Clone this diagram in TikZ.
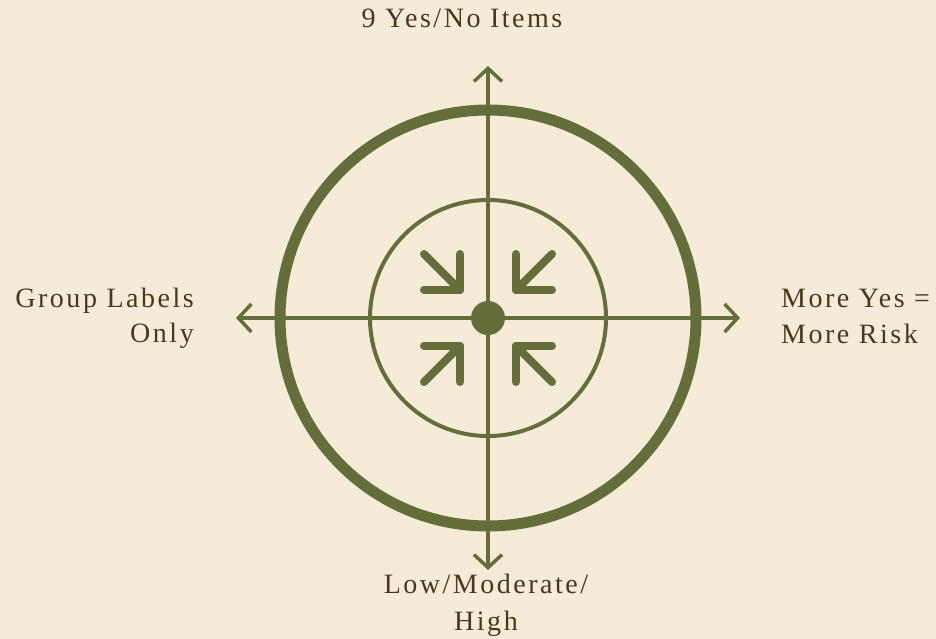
\documentclass[tikz,border=0pt]{standalone}
\usepackage{fontspec}
\setmainfont{Liberation Serif}[LetterSpace=9]
\usetikzlibrary{arrows.meta}
\definecolor{bg}{HTML}{F5EBD7}
\definecolor{olive}{HTML}{646E3B}
\definecolor{ink}{HTML}{47391F}
\begin{document}
\begin{tikzpicture}[x=1pt,y=-1pt,
  axis/.style={draw=olive,line width=3.5pt,{Straight Barb[length=13pt,width=28pt]}-{Straight Barb[length=13pt,width=28pt]}},
  chev/.style={draw=olive,line width=8pt,line cap=round,line join=round},
  ring/.style={circle,draw=olive,inner sep=0pt},
  lbl/.style={text=ink,font=\fontsize{28}{35}\selectfont,inner sep=0pt}]
\fill[bg] (0,0) rectangle (936,639);
\useasboundingbox (0,0) rectangle (936,639);
\coordinate (C) at (488,318);
\node[ring,line width=11pt,minimum size=416pt] (outer) at (C) {};
\node[ring,line width=4pt,minimum size=236pt] (inner) at (C) {};
\coordinate (T) at (488,66);
\coordinate (B) at (488,570);
\coordinate (L) at (236,318);
\coordinate (R) at (740,318);
\draw[axis] (T) -- (B);
\draw[axis] (L) -- (R);
\node[circle,fill=olive,minimum size=34pt,inner sep=0pt] (dot) at (C) {};
\begin{scope}[shift={(C)}]
\foreach \sx/\sy in {-1/-1,1/-1,-1/1,1/1}{
  \coordinate (k) at (28*\sx,28*\sy);
  \draw[chev] (28*\sx,64*\sy) -- (k) -- (64*\sx,28*\sy);
  \draw[chev] (64*\sx,64*\sy) -- (k);
}
\end{scope}
\node[lbl,anchor=base] (top) at (462,28) {9 Yes/No Items};
\node[lbl,anchor=base east] (left1) at (194,307) {Group Labels};
\node[lbl,anchor=base east] (left2) at (194,342) {Only};
\node[lbl,anchor=base west] (right1) at (781,307) {More Yes =};
\node[lbl,anchor=base west] (right2) at (781,343) {More Risk};
\node[lbl,anchor=base] (bot1) at (486,593) {Low/Moderate/};
\node[lbl,anchor=base] (bot2) at (486,630) {High};
\end{tikzpicture}
\end{document}
